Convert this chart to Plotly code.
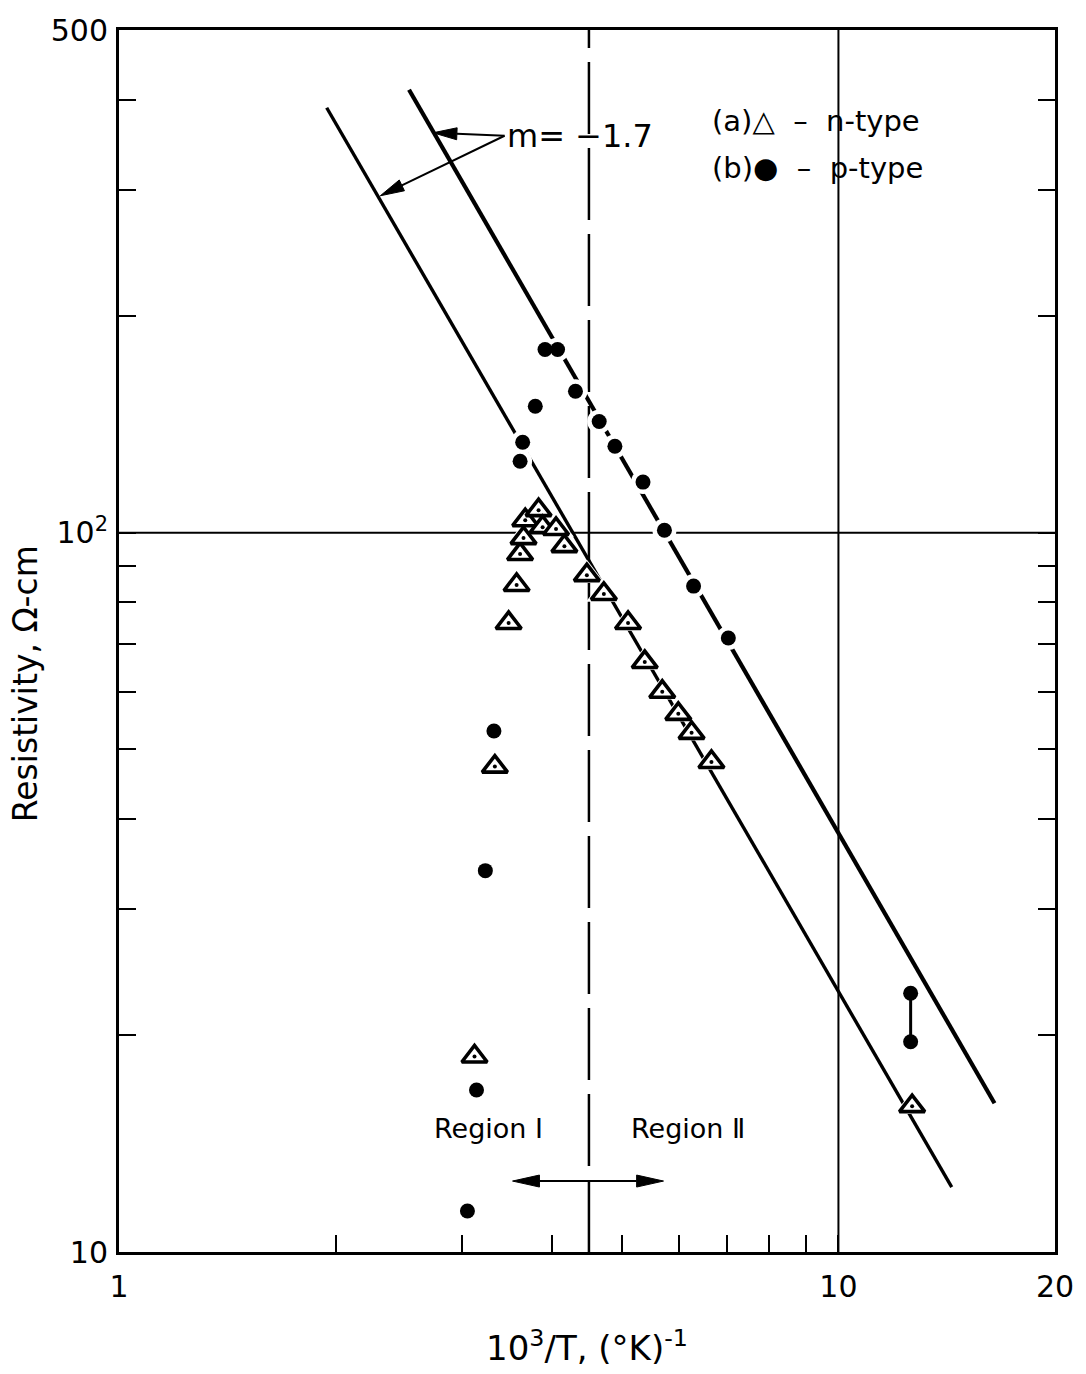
import numpy as np
import plotly.graph_objects as go

# ---- measured resistivity, rho (ohm-cm) vs 10^3/T (K^-1) ----
# (a) n-type samples
n_x = [3.12, 3.33, 3.48, 3.57, 3.61, 3.65, 3.67, 3.83, 3.88, 4.05,
       4.16, 4.47, 4.72, 5.10, 5.38, 5.69, 5.99, 6.25, 6.66, 12.66]
n_rho = [18.7, 47.3, 74.9, 84.6, 93.4, 98.3, 104.1, 107.5, 101.8, 101.2,
         95.8, 87.3, 82.2, 74.9, 66.1, 60.1, 56.0, 52.7, 48.0, 15.95]

# (b) p-type samples
p_x = [3.05, 3.14, 3.23, 3.32, 3.61, 3.64, 3.79, 3.91, 4.07, 4.31,
       4.65, 4.89, 5.35, 5.73, 6.29, 7.03]
p_rho = [11.4, 16.8, 33.9, 53.0, 125.7, 133.6, 149.9, 179.8, 179.8, 157.3,
         142.8, 131.9, 117.6, 100.8, 84.3, 71.4]

# p-type spread at the lowest temperature
p_pair_x = [12.6, 12.6]
p_pair_rho = [19.6, 22.9]

# straight-line fits, slope m = -1.7
fit_p_x = [2.53, 16.48]
fit_p_rho = [412.9, 16.1]
fit_n_x = [1.944, 14.37]
fit_n_rho = [389.8, 12.31]

# region I / region II boundary
boundary_x = 4.5

# axis ticks
x_major = [1, 10, 20]
x_major_text = ["1", "10", "20"]
x_minor = [2, 3, 4, 5, 6, 7, 8, 9]
y_major = [10, 100, 500]
y_major_text = ["10", "10<sup>2</sup>", "500"]
y_minor = [20, 30, 40, 50, 60, 70, 80, 90, 200, 300, 400]

X_MIN, X_MAX = 1, 20
Y_MIN, Y_MAX = 10, 500

W, H = 1086, 1374
M_L, M_R, M_T, M_B = 119, 27, 29, 121

FONT = "DejaVu Sans"
INK = "black"

L = np.log10
# pixels per decade on each log axis (used to shape the arrowheads)
KX = (W - M_L - M_R) / (L(X_MAX) - L(X_MIN))
KY = (H - M_T - M_B) / (L(Y_MAX) - L(Y_MIN))

fig = go.Figure()


def add_arrow(tail, tip, head_len=24, head_half=6, width=2):
    """Straight arrow in data units with a filled, narrow head at `tip`."""
    sx, sy = L(tail[0]) * KX, L(tail[1]) * KY
    tx, ty = L(tip[0]) * KX, L(tip[1]) * KY
    dx, dy = tx - sx, ty - sy
    n = np.hypot(dx, dy)
    ux, uy = dx / n, dy / n
    bx, by = tx - ux * head_len, ty - uy * head_len
    px, py = -uy * head_half, ux * head_half
    shaft_x = [tail[0], 10 ** (bx / KX)]
    shaft_y = [tail[1], 10 ** (by / KY)]
    fig.add_trace(go.Scatter(x=shaft_x, y=shaft_y, mode="lines",
                             line=dict(color=INK, width=width), hoverinfo="skip"))
    hx = [tip[0], 10 ** ((bx + px) / KX), 10 ** ((bx - px) / KX), tip[0]]
    hy = [tip[1], 10 ** ((by + py) / KY), 10 ** ((by - py) / KY), tip[1]]
    fig.add_trace(go.Scatter(x=hx, y=hy, mode="lines", fill="toself",
                             fillcolor=INK, line=dict(color=INK, width=1),
                             hoverinfo="skip"))


# reference lines: rho = 100 and 10^3/T = 10
fig.add_trace(go.Scatter(x=[X_MIN, X_MAX], y=[100, 100], mode="lines",
                         line=dict(color=INK, width=2), hoverinfo="skip"))
fig.add_trace(go.Scatter(x=[10, 10], y=[Y_MIN, Y_MAX], mode="lines",
                         line=dict(color=INK, width=2), hoverinfo="skip"))
# dashed boundary between the two regions
fig.add_trace(go.Scatter(x=[boundary_x, boundary_x], y=[Y_MIN, Y_MAX], mode="lines",
                         line=dict(color=INK, width=2.5, dash="72px,14px"),
                         hoverinfo="skip"))

# fitted lines
fig.add_trace(go.Scatter(x=fit_p_x, y=fit_p_rho, mode="lines",
                         line=dict(color=INK, width=4.2)))
fig.add_trace(go.Scatter(x=fit_n_x, y=fit_n_rho, mode="lines",
                         line=dict(color=INK, width=3.4)))

# slope arrows pointing at both fitted lines
add_arrow((3.435, 356.4), (2.732, 359.8))
add_arrow((3.435, 356.4), (2.308, 294.1))
# region I / region II double arrow
add_arrow((boundary_x, 12.55), (3.524, 12.55), head_len=27)
add_arrow((boundary_x, 12.55), (5.713, 12.55), head_len=27)

# white halos so lines break around the symbols
fig.add_trace(go.Scatter(x=p_x + p_pair_x, y=p_rho + p_pair_rho, mode="markers",
                         marker=dict(symbol="circle", size=24, color="white"),
                         hoverinfo="skip"))
fig.add_trace(go.Scatter(x=n_x, y=n_rho, mode="markers",
                         marker=dict(symbol="triangle-up", size=31, color="white"),
                         hoverinfo="skip"))

# p-type pair joined by a bar
fig.add_trace(go.Scatter(x=p_pair_x, y=p_pair_rho, mode="lines+markers",
                         line=dict(color=INK, width=3),
                         marker=dict(symbol="circle", size=15, color=INK)))
# p-type dots
fig.add_trace(go.Scatter(x=p_x, y=p_rho, mode="markers",
                         marker=dict(symbol="circle", size=15, color=INK)))
# n-type open triangles with a centre dot
fig.add_trace(go.Scatter(x=n_x, y=n_rho, mode="markers",
                         marker=dict(symbol="triangle-up", size=22, color="white",
                                     line=dict(color=INK, width=3.6))))
fig.add_trace(go.Scatter(x=n_x, y=n_rho, mode="markers",
                         marker=dict(symbol="circle", size=4, color=INK),
                         hoverinfo="skip"))

annotations = []

# slope label
annotations.append(dict(x=L(4.37), y=L(356.4), xref="x", yref="y", text="m= \u22121.7",
                        showarrow=False, font=dict(family=FONT, size=32, color=INK),
                        xanchor="center", yanchor="middle"))

# key
annotations.append(dict(x=0.631, y=0.9257, xref="paper", yref="paper",
                        text="(a)\u25b3  \u2013  n-type", showarrow=False,
                        xanchor="left", yanchor="middle",
                        font=dict(family=FONT, size=29, color=INK)))
annotations.append(dict(x=0.631, y=0.887, xref="paper", yref="paper",
                        text="(b)\u25cf  \u2013  p-type", showarrow=False,
                        xanchor="left", yanchor="middle",
                        font=dict(family=FONT, size=29, color=INK)))

# region labels
annotations.append(dict(x=0.3947, y=0.0866, xref="paper", yref="paper",
                        text="Region \u2160", showarrow=False,
                        font=dict(family=FONT, size=27, color=INK)))
annotations.append(dict(x=0.6074, y=0.0866, xref="paper", yref="paper",
                        text="Region \u2161", showarrow=False,
                        font=dict(family=FONT, size=27, color=INK)))

# y-axis title
annotations.append(dict(x=-0.1, y=0.465, xref="paper", yref="paper",
                        text="Resistivity, \u03a9-cm", textangle=-90, showarrow=False,
                        xanchor="center", yanchor="middle",
                        font=dict(family=FONT, size=33, color=INK)))

fig.update_layout(
    width=W, height=H,
    margin=dict(l=M_L, r=M_R, t=M_T, b=M_B),
    paper_bgcolor="white", plot_bgcolor="white",
    showlegend=False,
    font=dict(family=FONT, color=INK),
    annotations=annotations,
)

fig.update_xaxes(
    type="log", range=[L(X_MIN), L(X_MAX)],
    tickmode="array", tickvals=x_major, ticktext=x_major_text,
    ticks="inside", ticklen=17, tickwidth=2, tickcolor=INK,
    minor=dict(tickmode="array", tickvals=x_minor, ticks="inside",
               ticklen=17, tickwidth=2, tickcolor=INK, showgrid=False),
    showline=True, linewidth=3, linecolor=INK, mirror=True,
    showgrid=False, zeroline=False,
    tickfont=dict(family=FONT, size=30, color=INK),
    ticklabelstandoff=6,
    title=dict(text="10<sup>3</sup>/T, (\u00b0K)<sup>-1</sup>",
               font=dict(family=FONT, size=34, color=INK), standoff=34),
)
fig.update_yaxes(
    type="log", range=[L(Y_MIN), L(Y_MAX)],
    tickmode="array", tickvals=y_major, ticktext=y_major_text,
    ticks="inside", ticklen=17, tickwidth=2, tickcolor=INK,
    minor=dict(tickmode="array", tickvals=y_minor, ticks="inside",
               ticklen=17, tickwidth=2, tickcolor=INK, showgrid=False),
    showline=True, linewidth=3, linecolor=INK, mirror="ticks",
    showgrid=False, zeroline=False,
    tickfont=dict(family=FONT, size=30, color=INK),
    ticklabelstandoff=2,
)

fig.write_html("out.html")
